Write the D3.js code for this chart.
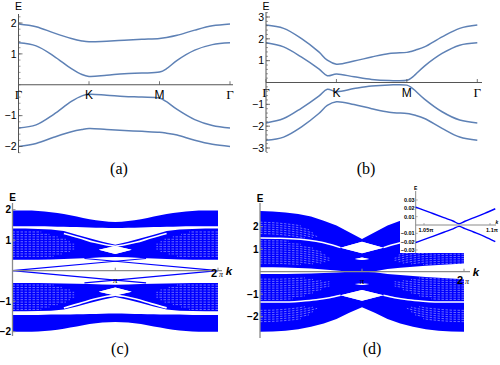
<!DOCTYPE html>
<html>
<head>
<meta charset="utf-8">
<script src="https://cdn.jsdelivr.net/npm/d3@7"></script>
<style>
  body { margin: 0; background: #fff; }
  svg { display: block; }
  text { font-family: "Liberation Sans", Arial, sans-serif; fill: #000; }
</style>
</head>
<body>
<svg id="fig" width="500" height="365"></svg>
<script>
// ---------- (a), (b): bulk bands along the path Γ-K-M-Γ (path coordinate 0..3)
const pathTicks = [0, 1, 2, 3];
const pathLabels = ["Γ", "K", "M", "Γ"];

const sA = [0, 0.25, 0.5, 0.75, 0.9, 1, 1.25, 1.5, 1.75, 2, 2.1, 2.25, 2.5, 2.75, 3];
const bandA1 = [1.97, 1.88, 1.68, 1.50, 1.42, 1.39, 1.41, 1.44, 1.47, 1.50, 1.53, 1.60, 1.77, 1.91, 1.97];
const bandA2 = [1.36, 1.26, 0.93, 0.52, 0.33, 0.27, 0.31, 0.36, 0.38, 0.41, 0.52, 0.79, 1.12, 1.30, 1.36];
const bandA3 = [-1.40, -1.30, -0.96, -0.54, -0.36, -0.31, -0.34, -0.38, -0.40, -0.43, -0.55, -0.80, -1.13, -1.32, -1.40];
const bandA4 = [-2.00, -1.90, -1.70, -1.52, -1.45, -1.42, -1.45, -1.48, -1.51, -1.54, -1.57, -1.63, -1.80, -1.93, -2.00];
const yTicksA = [-2, -1, 1, 2];

const sB = [0, 0.25, 0.5, 0.75, 0.87, 1, 1.25, 1.5, 1.75, 2, 2.06, 2.12, 2.25, 2.5, 2.75, 3];
const bandB1 = [2.63, 2.48, 2.02, 1.40, 1.02, 0.84, 0.98, 1.17, 1.33, 1.38, 1.42, 1.48, 1.63, 2.09, 2.48, 2.63];
const bandB2 = [1.82, 1.63, 1.17, 0.62, 0.31, 0.39, 0.26, 0.14, 0.09, 0.10, 0.20, 0.36, 0.75, 1.33, 1.71, 1.82];
const bandB3 = [-1.85, -1.65, -1.18, -0.62, -0.31, -0.42, -0.28, -0.16, -0.11, -0.12, -0.22, -0.38, -0.76, -1.34, -1.72, -1.85];
const bandB4 = [-2.65, -2.50, -2.04, -1.42, -1.05, -0.88, -1.01, -1.20, -1.36, -1.42, -1.45, -1.50, -1.65, -2.10, -2.50, -2.65];
const yTicksB = [-3, -2, -1, 1, 2, 3];

// ---------- (c), (d): ribbon spectra, k in units of π; half grid 0..π, mirrored to 2π
const kHalf = [0, 0.125, 0.25, 0.375, 0.5, 0.625, 0.75, 0.875, 1];

// (c) band envelopes (top / bottom of each blue sheet)
const cTop1 = [1.97, 1.97, 1.96, 1.92, 1.86, 1.78, 1.69, 1.63, 1.60];
const cBot1 = [1.46, 1.46, 1.46, 1.45, 1.44, 1.43, 1.42, 1.41, 1.40];
const cTop2 = [1.38, 1.38, 1.37, 1.35, 1.30, 1.18, 1.06, 0.95, 0.85];
const cBot2 = [0.36, 0.36, 0.36, 0.37, 0.38, 0.40, 0.42, 0.44, 0.45];
const cTop3 = [-0.40, -0.40, -0.40, -0.41, -0.42, -0.43, -0.44, -0.45, -0.46];
const cBot3 = [-1.33, -1.33, -1.32, -1.31, -1.27, -1.17, -1.06, -0.95, -0.86];
const cTop4 = [-1.45, -1.45, -1.45, -1.44, -1.44, -1.43, -1.42, -1.41, -1.40];
const cBot4 = [-2.00, -2.00, -1.99, -1.96, -1.90, -1.83, -1.75, -1.70, -1.68];
// (c) gaps near k = π
const cDiamondK = [0.84, 1, 1.16, 1];
const cDiamondE = [0.69, 0.81, 0.69, 0.55];
const cSliverK = [0.5, 0.65, 0.8, 0.92, 1.0];
const cSliverE = [1.22, 1.08, 0.93, 0.84, 0.80];
// (c) edge states
const cEdgeK = [0, 1, 1.3];
const cEdgeE = [0, 0.31, 0.40];
// (c) light streaks in the middle sheets: level and where they fade out
const cStreakE = [1.27, 1.19, 1.11, 1.03, 0.95, 0.87, 0.79, 0.71, 0.63, 0.55, 0.47];
const cStreakEnd = [0.30, 0.38, 0.46, 0.53, 0.58, 0.62, 0.63, 0.61, 0.56, 0.49, 0.40];

// (d) envelopes
const dTopA = [2.70, 2.68, 2.63, 2.56, 2.45, 2.27, 2.05, 1.75, 1.45];
const dBotD = [-2.67, -2.66, -2.62, -2.56, -2.45, -2.30, -2.10, -1.82, -1.58];
const dGapU = [0.20, 0.20, 0.19, 0.17, 0.14, 0.10, 0.05, 0.0, 0.0, 0.02, 0.12, 0.18, 0.22, 0.26, 0.30, 0.33, 0.36];
const dGapL = [-0.10, -0.10, -0.10, -0.09, -0.08, -0.06, -0.03, 0.0, 0.0, -0.02, -0.10, -0.15, -0.19, -0.23, -0.27, -0.30, -0.33];
const dCrackK = [0, 0.2, 0.4, 0.55, 0.68, 0.79];
const dCrackU = [1.50, 1.49, 1.44, 1.35, 1.22, 1.07];
const dCrackL = [-1.35, -1.35, -1.31, -1.25, -1.16, -1.05];
const dDiamondK = [0.79, 1, 1.21, 1];
const dDiamondU = [1.07, 1.33, 1.07, 0.82];
const dDiamondL = [-1.05, -0.81, -1.05, -1.29];
const dSpotK = [0.93, 1, 1.07, 1];
const dSpotU = [0.57, 0.63, 0.57, 0.52];
const dSpotL = [-0.55, -0.52, -0.55, -0.59];
// (d) streaks: offset from a sheet edge and where they fade out
const dStreakAOff = [0.50, 0.60, 0.70, 0.80, 0.90, 1.00];
const dStreakAEnd = [0.40, 0.48, 0.55, 0.58, 0.55, 0.45];
const dStreakBOff = [0.12, 0.22, 0.32, 0.42, 0.52, 0.62, 0.72, 0.82, 0.92, 1.02, 1.12];
const dStreakBEnd = [0.30, 0.42, 0.52, 0.60, 0.66, 0.70, 0.70, 0.66, 0.60, 0.52, 0.42];
const dStreakCOff = [0.12, 0.22, 0.32, 0.42, 0.52, 0.62, 0.72, 0.82, 0.92, 1.02];
const dStreakCEnd = [0.32, 0.44, 0.54, 0.62, 0.68, 0.70, 0.68, 0.62, 0.54, 0.44];
const dStreakDOff = [0.45, 0.55, 0.65, 0.75, 0.85, 0.95];
const dStreakDEnd = [0.40, 0.48, 0.55, 0.58, 0.55, 0.45];

// (d) inset: gap near k ≈ 1.076π
const insetK = [1.0437, 1.055, 1.065, 1.072, 1.0765, 1.081, 1.088, 1.096, 1.104];
const insetUp = [0.0215, 0.0148, 0.0088, 0.0048, 0.0016, 0.0045, 0.0088, 0.0140, 0.0195];
const insetDn = [-0.0212, -0.0146, -0.0087, -0.0047, -0.0016, -0.0044, -0.0087, -0.0139, -0.0200];
const insetYTicks = [0.03, 0.02, 0.01, -0.01, -0.02, -0.03];
const insetXTicks = [1.05, 1.1];
const insetXLabels = ["1.05π", "1.1π"];

const captions = ["(a)", "(b)", "(c)", "(d)"];

// ====================================================================
const svg = d3.select("#fig");
const fmt = d3.format("d");
const lineBlue = "#5e81b5";
const ribbonBlue = "#0000ff";

function bandPanel(o) {
  const g = svg.append("g");
  const x = d3.scaleLinear().domain([0, 3]).range(o.xRange);
  const y = d3.scaleLinear().domain(o.yDomain).range(o.yRange);
  const line = d3.line().x(d => x(d[0])).y(d => y(d[1])).curve(d3.curveCatmullRom.alpha(0.5));

  o.bands.forEach(b => {
    g.append("path")
      .datum(o.s.map((s, i) => [s, b[i]]))
      .attr("d", line)
      .attr("fill", "none")
      .attr("stroke", lineBlue)
      .attr("stroke-width", 1.5);
  });

  const ax = "#555";
  const x0 = x(0), y0 = y(0);
  g.append("line").attr("x1", x0).attr("x2", x0).attr("y1", o.axisTop).attr("y2", o.axisBottom)
    .attr("stroke", ax).attr("stroke-width", 1);
  g.append("line").attr("x1", x0).attr("x2", o.axisRight).attr("y1", y0).attr("y2", y0)
    .attr("stroke", ax).attr("stroke-width", 1);

  d3.range(o.yDomain[0] - 0.2, o.yDomain[1] + 0.21, 0.2).forEach(v => {
    g.append("line").attr("x1", x0).attr("x2", x0 + 2).attr("y1", y(v)).attr("y2", y(v))
      .attr("stroke", ax).attr("stroke-width", 0.6);
  });
  o.yTicks.forEach(v => {
    g.append("line").attr("x1", x0).attr("x2", x0 + 4).attr("y1", y(v)).attr("y2", y(v))
      .attr("stroke", ax).attr("stroke-width", 0.8);
    g.append("text").attr("x", x0 - 2).attr("y", y(v)).attr("dy", "0.36em")
      .attr("text-anchor", "end").attr("font-size", 10.5).text(fmt(v));
  });
  pathTicks.forEach((p, i) => {
    g.append("line").attr("x1", x(p)).attr("x2", x(p)).attr("y1", y0).attr("y2", y0 - 3.5)
      .attr("stroke", ax).attr("stroke-width", 0.8);
    g.append("text").attr("x", x(p)).attr("y", y0 + 10).attr("dy", "0.36em")
      .attr("text-anchor", "middle")
      .attr("font-size", pathLabels[i] === "Γ" ? 13 : 12)
      .style("font-family", pathLabels[i] === "Γ" ? "'Liberation Serif', serif" : null)
      .text(pathLabels[i]);
  });
  g.append("text").attr("x", x0).attr("y", 6.5).attr("dy", "0.36em")
    .attr("text-anchor", "middle").attr("font-size", 10.5).text("E");
}

bandPanel({
  s: sA, bands: [bandA1, bandA2, bandA3, bandA4], yTicks: yTicksA,
  xRange: [18.5, 230], yDomain: [-2, 2], yRange: [146.5, 23],
  axisTop: 14, axisBottom: 153, axisRight: 233
});
bandPanel({
  s: sB, bands: [bandB1, bandB2, bandB3, bandB4], yTicks: yTicksB,
  xRange: [266, 477.3], yDomain: [-3, 3], yRange: [148, 17],
  axisTop: 12, axisBottom: 152, axisRight: 482
});

// ---------- ribbon helpers
const kFull = kHalf.concat(kHalf.slice(0, -1).reverse().map(k => 2 - k));
function mirror(h) { return h.concat(h.slice(0, -1).reverse()); }

function sheet(g, x, y, top, bot, curve) {
  const area = d3.area()
    .x(d => x(d.k)).y0(d => y(d.b)).y1(d => y(d.t))
    .curve(curve || d3.curveLinear);
  g.append("path")
    .datum(kFull.map((k, i) => ({ k, t: top[i], b: bot[i] })))
    .attr("d", area)
    .attr("fill", ribbonBlue);
}

function whitePoly(g, x, y, ks, es) {
  [ks, ks.map(k => 2 - k)].forEach(kk => {
    const pts = kk.map((k, i) => [x(k), y(es[i])]);
    g.append("path").attr("d", d3.line()(pts) + "Z").attr("fill", "#fff");
  });
}

function whiteLine(g, x, y, ks, es, w) {
  [ks, ks.map(k => 2 - k)].forEach(kk => {
    const pts = kk.map((k, i) => [x(k), y(es[i])]);
    g.append("path").attr("d", d3.line().curve(d3.curveMonotoneX)(pts.slice().sort((a, b) => a[0] - b[0])))
      .attr("fill", "none").attr("stroke", "#fff").attr("stroke-width", w);
  });
}

// streaks that follow an edge: edge(k) + off, fading out at kEnd (both sides)
function streaks(g, x, y, edge, offs, ends, sign) {
  offs.forEach((off, i) => {
    const ks = d3.range(0, ends[i] + 1e-9, 0.04);
    [ks, ks.map(k => 2 - k)].forEach(kk => {
      const pts = kk.map((k, j) => [x(k), y(edge(ks[j]) + sign * off)]);
      g.append("path").attr("d", d3.line()(pts))
        .attr("fill", "none").attr("stroke", "#fff")
        .attr("stroke-width", 0.6).attr("stroke-dasharray", "2.5,1.5").attr("opacity", 0.7);
    });
  });
}

function ribbonAxes(g, x, y, o) {
  const ax = "#8a8a8a";
  g.append("line").attr("x1", x(0)).attr("x2", x(0)).attr("y1", o.top).attr("y2", o.bottom)
    .attr("stroke", ax).attr("stroke-width", 1.3);
  g.append("line").attr("x1", x(0)).attr("x2", o.right).attr("y1", y(0)).attr("y2", y(0))
    .attr("stroke", ax).attr("stroke-width", 1.3);
  o.yTicks.forEach(v => {
    g.append("line").attr("x1", x(0)).attr("x2", x(0) + 3).attr("y1", y(v)).attr("y2", y(v))
      .attr("stroke", ax).attr("stroke-width", 1);
    g.append("text").attr("x", x(0) - 1.5).attr("y", y(v)).attr("dy", "0.36em")
      .attr("text-anchor", "end").attr("font-size", 10).attr("font-weight", "bold").text(fmt(v));
  });
  [1, 2].forEach(k => {
    g.append("line").attr("x1", x(k)).attr("x2", x(k)).attr("y1", y(0)).attr("y2", y(0) - 3)
      .attr("stroke", ax).attr("stroke-width", 1);
  });
  g.append("text").attr("x", x(1)).attr("y", y(0) + 9).attr("dy", "0.36em")
    .attr("text-anchor", "middle").attr("font-size", 9)
    .style("font-family", "'Liberation Serif', serif").attr("font-style", "italic").text("π");
  const t2 = g.append("text").attr("x", x(2) - 1).attr("y", y(0) + o.twoPiDy).attr("dy", "0.36em")
    .attr("text-anchor", "middle");
  t2.append("tspan").attr("font-size", 11).attr("font-weight", "bold").text("2");
  t2.append("tspan").attr("font-size", 8).style("font-family", "'Liberation Serif', serif")
    .attr("font-style", "italic").text(" π");
  g.append("text").attr("x", o.kx).attr("y", y(0)).attr("dy", "0.36em")
    .attr("text-anchor", "middle").attr("font-size", 11.5).attr("font-weight", "bold")
    .attr("font-style", "italic").text("k");
  g.append("text").attr("x", x(0)).attr("y", o.ey).attr("dy", "0.36em")
    .attr("text-anchor", "middle").attr("font-size", 10).attr("font-weight", "bold").text("E");
}

// ---------- (c)
const cx = d3.scaleLinear().domain([0, 2]).range([12.5, 218]);
const cy = d3.scaleLinear().domain([-2, 2]).range([331.7, 209.7]);
const gc = svg.append("g");
sheet(gc, cx, cy, mirror(cTop1), mirror(cBot1), d3.curveMonotoneX);
sheet(gc, cx, cy, mirror(cTop2), mirror(cBot2));
sheet(gc, cx, cy, mirror(cTop3), mirror(cBot3));
sheet(gc, cx, cy, mirror(cTop4), mirror(cBot4), d3.curveMonotoneX);
[1, -1].forEach(sg => streaks(gc, cx, cy, () => 0, cStreakE, cStreakEnd, sg));
whitePoly(gc, cx, cy, cDiamondK, cDiamondE);
whitePoly(gc, cx, cy, cDiamondK, cDiamondE.map(e => -e));
whiteLine(gc, cx, cy, cSliverK, cSliverE, 1.6);
whiteLine(gc, cx, cy, cSliverK, cSliverE.map(e => -e), 1.6);
[1, -1].forEach(sg => {
  [cEdgeK, cEdgeK.map(k => 2 - k)].forEach(kk => {
    gc.append("path")
      .attr("d", d3.line()(kk.map((k, i) => [cx(k), cy(sg * cEdgeE[i])])))
      .attr("fill", "none").attr("stroke", ribbonBlue).attr("stroke-width", 1.2);
  });
});
ribbonAxes(gc, cx, cy, {
  top: 203, bottom: 336, right: 222, yTicks: [-2, -1, 1, 2],
  twoPiDy: 1, kx: 229, ey: 197.5
});

// ---------- (d)
const dx = d3.scaleLinear().domain([0, 2]).range([260, 464]);
const dy = d3.scaleLinear().domain([-2, 2]).range([316.7, 226.7]);
const gd = svg.append("g");
sheet(gd, dx, dy, mirror(dTopA), dGapU);
sheet(gd, dx, dy, dGapL, mirror(dBotD));

const topA = d3.scaleLinear().domain(kHalf).range(dTopA);
const botD = d3.scaleLinear().domain(kHalf).range(dBotD);
const crackU = d3.scaleLinear().domain(dCrackK).range(dCrackU);
const crackL = d3.scaleLinear().domain(dCrackK).range(dCrackL);
streaks(gd, dx, dy, topA, dStreakAOff, dStreakAEnd, -1);
streaks(gd, dx, dy, crackU, dStreakBOff, dStreakBEnd, -1);
streaks(gd, dx, dy, crackL, dStreakCOff, dStreakCEnd, 1);
streaks(gd, dx, dy, botD, dStreakDOff, dStreakDEnd, 1);
whiteLine(gd, dx, dy, dCrackK, dCrackU, 1.5);
whiteLine(gd, dx, dy, dCrackK, dCrackL, 1.5);
whitePoly(gd, dx, dy, dDiamondK, dDiamondU);
whitePoly(gd, dx, dy, dDiamondK, dDiamondL);
whitePoly(gd, dx, dy, dSpotK, dSpotU);
whitePoly(gd, dx, dy, dSpotK, dSpotL);
ribbonAxes(gd, dx, dy, {
  top: 203, bottom: 338, right: 470, yTicks: [-2, -1, 1, 2],
  twoPiDy: 7, kx: 476, ey: 198
});

// ---------- (d) inset
const gi = svg.append("g");
gi.append("rect").attr("x", 400).attr("y", 183).attr("width", 100).attr("height", 70).attr("fill", "#fff");
const ix = d3.scaleLinear().domain([1.05, 1.1]).range([424, 490]);
const iy = d3.scaleLinear().domain([-0.03, 0.03]).range([250, 200]);
const iax = "#8a8a8a";
const ix0 = ix(insetK[0]);
gi.append("line").attr("x1", ix0).attr("x2", ix0).attr("y1", 191).attr("y2", 253)
  .attr("stroke", iax).attr("stroke-width", 1);
gi.append("line").attr("x1", ix0).attr("x2", 496).attr("y1", iy(0)).attr("y2", iy(0))
  .attr("stroke", iax).attr("stroke-width", 1);
insetYTicks.forEach(v => {
  gi.append("line").attr("x1", ix0).attr("x2", ix0 + 2).attr("y1", iy(v)).attr("y2", iy(v))
    .attr("stroke", iax).attr("stroke-width", 0.7);
  gi.append("text").attr("x", ix0 - 1).attr("y", iy(v)).attr("dy", "0.36em")
    .attr("text-anchor", "end").attr("font-size", 5.5).attr("font-weight", "bold")
    .text(d3.format(".2f")(v));
});
insetXTicks.forEach((v, i) => {
  gi.append("line").attr("x1", ix(v)).attr("x2", ix(v)).attr("y1", iy(0)).attr("y2", iy(0) - 2)
    .attr("stroke", iax).attr("stroke-width", 0.7);
  gi.append("text").attr("x", ix(v) + 2).attr("y", iy(0) + 5.5).attr("dy", "0.36em")
    .attr("text-anchor", "middle").attr("font-size", 5.5).attr("font-weight", "bold")
    .text(insetXLabels[i]);
});
gi.append("text").attr("x", ix0).attr("y", 188).attr("dy", "0.36em")
  .attr("text-anchor", "middle").attr("font-size", 5).attr("font-weight", "bold").text("E");
gi.append("text").attr("x", 497).attr("y", iy(0) - 2.5).attr("dy", "0.36em")
  .attr("text-anchor", "middle").attr("font-size", 5).attr("font-weight", "bold")
  .attr("font-style", "italic").text("k");
const iline = d3.line().x(d => ix(d[0])).y(d => iy(d[1])).curve(d3.curveCatmullRom.alpha(0.5));
[insetUp, insetDn].forEach(arr => {
  gi.append("path").datum(insetK.map((k, i) => [k, arr[i]])).attr("d", iline)
    .attr("fill", "none").attr("stroke", ribbonBlue).attr("stroke-width", 1.4);
});

// ---------- captions
const capPos = [[119, 174], [366, 174], [120, 354], [372, 354]];
captions.forEach((c, i) => {
  svg.append("text").attr("x", capPos[i][0]).attr("y", capPos[i][1])
    .attr("text-anchor", "middle").attr("font-size", 16)
    .style("font-family", "'Liberation Serif', 'Times New Roman', serif").text(c);
});
</script>
</body>
</html>
